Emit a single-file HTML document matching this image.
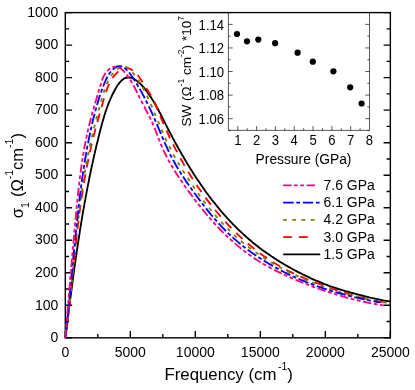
<!DOCTYPE html>
<html><head><meta charset="utf-8"><title>chart</title>
<style>
html,body{margin:0;padding:0;background:#fff;}
body{width:415px;height:390px;overflow:hidden;}
svg{display:block;will-change:transform;opacity:0.999;}
text{font-family:"Liberation Sans",sans-serif;fill:#000;}
.tl{font-size:14px;}
.il{font-size:13.1px;}
</style></head><body>
<svg width="415" height="390" viewBox="0 0 415 390">
<rect width="415" height="390" fill="#fff"/>
<defs><clipPath id="cp"><rect x="64.6" y="12" width="326.5" height="326.5"/></clipPath></defs>

<g stroke="#000" stroke-width="1.4" fill="none">
<rect x="65.30" y="12.60" width="325.05" height="325.20"/>
<path d="M65.3 337.80h6.8M390.4 337.80h-6.8M65.3 321.54h3.8M390.4 321.54h-3.8M65.3 305.28h6.8M390.4 305.28h-6.8M65.3 289.02h3.8M390.4 289.02h-3.8M65.3 272.76h6.8M390.4 272.76h-6.8M65.3 256.50h3.8M390.4 256.50h-3.8M65.3 240.24h6.8M390.4 240.24h-6.8M65.3 223.98h3.8M390.4 223.98h-3.8M65.3 207.72h6.8M390.4 207.72h-6.8M65.3 191.46h3.8M390.4 191.46h-3.8M65.3 175.20h6.8M390.4 175.20h-6.8M65.3 158.94h3.8M390.4 158.94h-3.8M65.3 142.68h6.8M390.4 142.68h-6.8M65.3 126.42h3.8M390.4 126.42h-3.8M65.3 110.16h6.8M390.4 110.16h-6.8M65.3 93.90h3.8M390.4 93.90h-3.8M65.3 77.64h6.8M390.4 77.64h-6.8M65.3 61.38h3.8M390.4 61.38h-3.8M65.3 45.12h6.8M390.4 45.12h-6.8M65.3 28.86h3.8M390.4 28.86h-3.8M65.3 12.60h6.8M390.4 12.60h-6.8M65.30 337.8v-6.8M97.81 337.8v-3.8M130.31 337.8v-6.8M162.81 337.8v-3.8M195.32 337.8v-6.8M227.82 337.8v-3.8M260.33 337.8v-6.8M292.83 337.8v-3.8M325.34 337.8v-6.8M357.85 337.8v-3.8M390.35 337.8v-6.8"/>
</g>
<g clip-path="url(#cp)" fill="none" stroke-width="1.85" stroke-linejoin="round">
<path d="M65.5 337.8 L65.8 335.4 L66.1 332.9 L66.4 330.5 L66.7 328.1 L67.0 325.6 L67.3 323.2 L67.6 320.8 L67.9 318.4 L68.2 315.9 L68.5 313.5 L68.8 311.1 L69.1 308.6 L69.4 306.2 L69.7 303.7 L70.0 301.3 L70.3 298.9 L70.6 296.4 L71.0 294.0 L71.3 291.6 L71.6 289.1 L71.9 286.7 L72.2 284.3 L72.6 281.8 L72.9 279.4 L73.2 277.0 L73.5 274.5 L73.9 272.1 L74.2 269.7 L74.5 267.2 L74.9 264.8 L75.2 262.4 L75.6 259.9 L75.9 257.5 L76.3 255.1 L76.6 252.7 L77.0 250.2 L77.3 247.8 L77.7 245.4 L78.1 242.9 L78.4 240.5 L78.8 238.1 L79.2 235.7 L79.6 233.2 L79.9 230.8 L80.3 228.4 L80.7 226.0 L81.1 223.5 L81.5 221.1 L81.9 218.7 L82.3 216.3 L82.7 213.9 L83.1 211.4 L83.6 209.0 L84.0 206.6 L84.4 204.2 L84.8 201.8 L85.3 199.4 L85.7 196.9 L86.2 194.5 L86.6 192.1 L87.1 189.7 L87.5 187.3 L88.0 184.9 L88.5 182.5 L89.0 180.1 L89.4 177.7 L89.9 175.3 L90.4 172.9 L90.9 170.5 L91.4 168.1 L91.9 165.7 L92.5 163.3 L93.0 160.9 L93.5 158.5 L94.0 156.1 L94.6 153.8 L95.1 151.4 L95.7 149.0 L96.2 146.6 L96.8 144.2 L97.4 141.9 L98.0 139.5 L98.5 137.1 L99.1 134.7 L99.7 132.4 L100.3 130.0 L101.0 127.6 L101.6 125.3 L102.2 122.9 L102.9 120.5 L103.6 118.2 L104.3 115.8 L105.0 113.5 L105.8 111.1 L106.6 108.8 L107.4 106.5 L108.3 104.1 L109.2 101.8 L110.2 99.5 L111.3 97.1 L112.3 94.8 L113.5 92.5 L114.7 90.2 L116.0 87.9 L117.3 85.7 L118.7 83.7 L120.3 81.8 L121.8 80.2 L123.5 78.9 L125.3 78.0 L127.2 77.5 L129.1 77.4 L131.2 77.8 L133.3 78.6 L135.3 79.8 L137.4 81.2 L139.3 82.8 L141.2 84.7 L143.0 86.7 L144.7 88.7 L146.3 90.8 L147.8 92.9 L149.3 95.0 L150.8 97.1 L152.1 99.2 L153.4 101.3 L154.7 103.4 L155.9 105.6 L157.1 107.7 L158.3 109.8 L159.4 112.0 L160.6 114.1 L161.7 116.3 L162.8 118.4 L163.9 120.6 L164.9 122.8 L166.0 124.9 L167.1 127.1 L168.2 129.2 L169.3 131.4 L170.5 133.5 L171.6 135.7 L172.7 137.9 L173.9 140.0 L175.0 142.2 L176.2 144.3 L177.4 146.5 L178.6 148.6 L179.8 150.7 L181.0 152.9 L182.2 155.0 L183.5 157.1 L184.7 159.2 L186.0 161.4 L187.2 163.5 L188.5 165.6 L189.8 167.7 L191.1 169.8 L192.4 171.8 L193.7 173.9 L195.1 176.0 L196.4 178.1 L197.8 180.1 L199.2 182.1 L200.6 184.2 L202.0 186.2 L203.4 188.2 L204.8 190.2 L206.2 192.2 L207.7 194.2 L209.2 196.2 L210.6 198.1 L212.1 200.1 L213.7 202.0 L215.2 203.9 L216.7 205.8 L218.3 207.7 L219.8 209.6 L221.4 211.5 L223.0 213.3 L224.6 215.2 L226.3 217.0 L227.9 218.8 L229.6 220.6 L231.3 222.4 L232.9 224.2 L234.7 225.9 L236.4 227.6 L238.1 229.3 L239.9 231.0 L241.7 232.7 L243.5 234.4 L245.3 236.0 L247.1 237.6 L248.9 239.2 L250.8 240.8 L252.7 242.4 L254.6 243.9 L256.5 245.4 L258.4 246.9 L260.3 248.4 L262.3 249.9 L264.3 251.3 L266.3 252.7 L268.3 254.1 L270.3 255.5 L272.3 256.9 L274.4 258.2 L276.4 259.6 L278.5 260.9 L280.6 262.2 L282.7 263.4 L284.8 264.7 L286.9 265.9 L289.0 267.1 L291.2 268.3 L293.3 269.5 L295.5 270.7 L297.7 271.8 L299.8 272.9 L302.0 274.0 L304.2 275.1 L306.5 276.2 L308.7 277.2 L310.9 278.3 L313.2 279.3 L315.4 280.3 L317.7 281.2 L320.0 282.2 L322.2 283.1 L324.5 284.1 L326.8 284.9 L329.1 285.8 L331.4 286.6 L333.7 287.4 L336.0 288.2 L338.4 289.0 L340.7 289.7 L343.0 290.4 L345.4 291.1 L347.7 291.7 L350.1 292.4 L352.4 293.0 L354.8 293.7 L357.1 294.3 L359.5 294.9 L361.9 295.5 L364.2 296.1 L366.6 296.7 L369.0 297.3 L371.3 297.9 L373.7 298.4 L376.1 298.9 L378.5 299.4 L380.9 299.9 L383.2 300.4 L385.6 300.8 L388.0 301.2 L390.4 301.6" stroke="#000"/>
<path d="M65.2 337.7 L65.6 335.2 L65.9 332.7 L66.2 330.2 L66.6 327.7 L66.9 325.2 L67.2 322.7 L67.5 320.2 L67.8 317.7 L68.1 315.2 L68.4 312.7 L68.7 310.2 L69.0 307.7 L69.3 305.2 L69.6 302.7 L69.9 300.1 L70.1 297.6 L70.4 295.1 L70.7 292.6 L71.0 290.1 L71.2 287.5 L71.5 285.0 L71.8 282.5 L72.0 280.0 L72.3 277.5 L72.5 274.9 L72.8 272.4 L73.1 269.9 L73.3 267.4 L73.6 264.8 L73.9 262.3 L74.1 259.8 L74.4 257.3 L74.6 254.7 L74.9 252.2 L75.2 249.7 L75.5 247.2 L75.7 244.6 L76.0 242.1 L76.3 239.6 L76.6 237.1 L76.9 234.5 L77.2 232.0 L77.4 229.5 L77.7 227.0 L78.0 224.5 L78.4 221.9 L78.7 219.4 L79.0 216.9 L79.3 214.4 L79.6 211.9 L80.0 209.4 L80.3 206.9 L80.7 204.4 L81.0 201.8 L81.4 199.3 L81.7 196.8 L82.1 194.3 L82.5 191.8 L82.9 189.3 L83.3 186.8 L83.7 184.3 L84.1 181.9 L84.5 179.4 L85.0 176.9 L85.4 174.4 L85.8 171.9 L86.3 169.4 L86.8 166.9 L87.3 164.5 L87.8 162.0 L88.3 159.5 L88.8 157.1 L89.3 154.6 L89.8 152.1 L90.4 149.7 L90.9 147.2 L91.5 144.8 L92.1 142.3 L92.7 139.9 L93.3 137.4 L93.9 135.0 L94.6 132.5 L95.2 130.1 L95.8 127.6 L96.5 125.2 L97.2 122.8 L97.8 120.3 L98.5 117.9 L99.2 115.4 L99.9 112.9 L100.6 110.5 L101.3 108.0 L102.0 105.5 L102.7 103.0 L103.4 100.6 L104.1 98.1 L104.9 95.6 L105.6 93.1 L106.5 90.6 L107.3 88.2 L108.3 85.9 L109.3 83.6 L110.5 81.3 L111.7 79.2 L113.1 77.2 L114.7 75.2 L116.4 73.4 L118.2 71.7 L120.3 70.2 L122.5 69.1 L124.7 68.4 L127.1 68.3 L129.4 68.7 L131.6 69.7 L133.7 71.0 L135.5 72.6 L137.3 74.6 L138.9 76.7 L140.4 78.9 L141.9 81.2 L143.3 83.5 L144.7 85.8 L146.1 88.0 L147.5 90.1 L148.8 92.1 L150.2 94.1 L151.4 96.2 L152.6 98.3 L153.7 100.5 L154.8 102.8 L155.8 105.1 L156.7 107.5 L157.7 109.9 L158.7 112.3 L159.6 114.7 L160.6 117.0 L161.6 119.4 L162.6 121.7 L163.6 124.0 L164.6 126.3 L165.7 128.6 L166.7 130.9 L167.8 133.2 L168.8 135.5 L169.9 137.8 L171.0 140.1 L172.1 142.3 L173.3 144.6 L174.4 146.8 L175.5 149.1 L176.7 151.3 L177.9 153.6 L179.1 155.8 L180.3 158.0 L181.5 160.2 L182.8 162.4 L184.0 164.6 L185.3 166.8 L186.6 169.0 L187.9 171.2 L189.2 173.4 L190.5 175.5 L191.9 177.7 L193.2 179.8 L194.6 181.9 L196.0 184.0 L197.4 186.2 L198.8 188.2 L200.3 190.3 L201.7 192.4 L203.2 194.5 L204.7 196.5 L206.2 198.6 L207.7 200.6 L209.3 202.6 L210.8 204.6 L212.4 206.6 L214.0 208.6 L215.6 210.5 L217.2 212.5 L218.9 214.4 L220.5 216.3 L222.2 218.2 L223.9 220.1 L225.6 222.0 L227.3 223.9 L229.0 225.7 L230.8 227.5 L232.6 229.3 L234.4 231.1 L236.2 232.9 L238.0 234.7 L239.8 236.4 L241.7 238.1 L243.6 239.8 L245.5 241.5 L247.4 243.2 L249.3 244.8 L251.3 246.4 L253.2 248.0 L255.2 249.6 L257.2 251.2 L259.2 252.7 L261.2 254.2 L263.3 255.7 L265.4 257.1 L267.4 258.6 L269.5 260.0 L271.7 261.3 L273.8 262.7 L275.9 264.0 L278.1 265.3 L280.3 266.6 L282.5 267.8 L284.7 269.0 L287.0 270.2 L289.2 271.3 L291.5 272.4 L293.8 273.5 L296.1 274.6 L298.4 275.6 L300.7 276.6 L303.1 277.6 L305.4 278.6 L307.8 279.6 L310.1 280.5 L312.5 281.4 L314.9 282.3 L317.3 283.2 L319.7 284.1 L322.1 284.9 L324.5 285.8 L326.9 286.7 L329.2 287.5 L331.6 288.4 L334.0 289.2 L336.4 290.1 L338.8 290.9 L341.3 291.7 L343.7 292.4 L346.1 293.2 L348.5 293.9 L350.9 294.6 L353.3 295.3 L355.8 296.0 L358.2 296.7 L360.6 297.3 L363.1 297.9 L365.5 298.5 L368.0 299.1 L370.5 299.7 L372.9 300.2 L375.4 300.7 L377.9 301.2 L380.4 301.6 L382.9 302.1 L385.4 302.5 L388.0 302.9 L390.5 303.2" stroke="#ff0000" stroke-dasharray="8.7 6.9"/>
<path d="M65.1 337.8 L65.5 335.2 L65.8 332.7 L66.2 330.2 L66.5 327.7 L66.9 325.1 L67.2 322.6 L67.5 320.1 L67.8 317.6 L68.1 315.0 L68.4 312.5 L68.7 310.0 L69.0 307.4 L69.3 304.9 L69.6 302.4 L69.9 299.8 L70.2 297.3 L70.4 294.8 L70.7 292.2 L71.0 289.7 L71.2 287.1 L71.5 284.6 L71.8 282.1 L72.0 279.5 L72.3 277.0 L72.5 274.4 L72.8 271.9 L73.1 269.4 L73.3 266.8 L73.6 264.3 L73.8 261.7 L74.1 259.2 L74.3 256.7 L74.6 254.1 L74.8 251.6 L75.1 249.0 L75.3 246.5 L75.6 243.9 L75.9 241.4 L76.1 238.9 L76.4 236.3 L76.7 233.8 L76.9 231.3 L77.2 228.7 L77.5 226.2 L77.8 223.6 L78.1 221.1 L78.4 218.6 L78.7 216.0 L79.0 213.5 L79.3 211.0 L79.6 208.4 L79.9 205.9 L80.2 203.4 L80.5 200.9 L80.9 198.3 L81.2 195.8 L81.6 193.3 L81.9 190.8 L82.3 188.2 L82.7 185.7 L83.1 183.2 L83.4 180.7 L83.8 178.2 L84.2 175.6 L84.7 173.1 L85.1 170.6 L85.5 168.1 L86.0 165.6 L86.4 163.1 L86.9 160.6 L87.4 158.1 L87.9 155.6 L88.4 153.1 L88.9 150.6 L89.4 148.1 L89.9 145.6 L90.5 143.1 L91.0 140.6 L91.6 138.2 L92.2 135.7 L92.8 133.2 L93.4 130.7 L94.0 128.2 L94.6 125.8 L95.2 123.3 L95.9 120.8 L96.5 118.3 L97.2 115.9 L97.8 113.4 L98.5 110.9 L99.2 108.5 L99.9 106.0 L100.6 103.5 L101.3 101.1 L102.0 98.6 L102.7 96.2 L103.4 93.7 L104.1 91.3 L104.9 88.8 L105.8 86.5 L106.7 84.1 L107.8 81.8 L108.9 79.5 L110.2 77.3 L111.6 75.1 L113.3 73.1 L115.0 71.1 L117.0 69.3 L119.1 67.7 L121.3 66.7 L123.4 66.2 L125.6 66.5 L127.6 67.7 L129.6 69.3 L131.5 71.3 L133.3 73.4 L135.0 75.5 L136.5 77.6 L138.0 79.8 L139.4 81.9 L140.8 84.1 L142.1 86.3 L143.3 88.5 L144.5 90.7 L145.6 93.0 L146.7 95.2 L147.8 97.5 L148.9 99.8 L149.9 102.1 L150.9 104.5 L152.0 106.8 L153.0 109.2 L154.0 111.5 L154.9 113.9 L155.9 116.3 L156.9 118.6 L157.9 121.0 L158.9 123.4 L159.8 125.7 L160.8 128.1 L161.8 130.5 L162.9 132.8 L163.9 135.2 L164.9 137.5 L166.0 139.8 L167.1 142.1 L168.2 144.4 L169.4 146.7 L170.5 148.9 L171.7 151.2 L172.9 153.4 L174.1 155.7 L175.3 157.9 L176.6 160.1 L177.9 162.3 L179.1 164.5 L180.5 166.6 L181.8 168.8 L183.1 171.0 L184.5 173.1 L185.8 175.3 L187.2 177.4 L188.6 179.5 L190.0 181.7 L191.4 183.8 L192.9 185.9 L194.3 188.0 L195.8 190.1 L197.2 192.2 L198.7 194.3 L200.2 196.4 L201.8 198.4 L203.3 200.5 L204.8 202.5 L206.4 204.5 L208.0 206.5 L209.6 208.5 L211.2 210.5 L212.8 212.5 L214.5 214.4 L216.2 216.4 L217.8 218.3 L219.5 220.2 L221.3 222.1 L223.0 223.9 L224.8 225.8 L226.5 227.6 L228.3 229.4 L230.2 231.2 L232.0 233.0 L233.8 234.7 L235.7 236.4 L237.6 238.1 L239.5 239.8 L241.5 241.5 L243.4 243.1 L245.4 244.7 L247.4 246.3 L249.4 247.8 L251.4 249.3 L253.5 250.8 L255.6 252.3 L257.7 253.8 L259.8 255.2 L261.9 256.6 L264.0 258.0 L266.2 259.4 L268.4 260.7 L270.5 262.1 L272.7 263.3 L274.9 264.6 L277.2 265.9 L279.4 267.1 L281.7 268.3 L283.9 269.5 L286.2 270.7 L288.5 271.8 L290.8 273.0 L293.1 274.1 L295.4 275.2 L297.7 276.2 L300.0 277.3 L302.4 278.3 L304.7 279.3 L307.1 280.3 L309.4 281.2 L311.8 282.2 L314.2 283.1 L316.5 284.0 L318.9 284.9 L321.3 285.8 L323.7 286.7 L326.1 287.5 L328.5 288.4 L331.0 289.2 L333.4 290.0 L335.8 290.9 L338.3 291.6 L340.7 292.4 L343.1 293.1 L345.6 293.8 L348.1 294.5 L350.5 295.1 L353.0 295.8 L355.5 296.4 L357.9 297.0 L360.4 297.6 L362.9 298.2 L365.4 298.7 L367.9 299.3 L370.4 299.8 L372.9 300.3 L375.4 300.8 L377.9 301.3 L380.4 301.7 L382.9 302.2 L385.5 302.6 L388.0 303.0 L390.5 303.4" stroke="#808000" stroke-dasharray="3.7 5.5"/>
<path d="M65.3 337.8 L65.5 335.2 L65.8 332.7 L66.1 330.1 L66.4 327.6 L66.6 325.0 L66.9 322.5 L67.2 319.9 L67.4 317.4 L67.7 314.8 L68.0 312.3 L68.2 309.7 L68.5 307.2 L68.7 304.6 L69.0 302.1 L69.2 299.5 L69.5 297.0 L69.7 294.4 L70.0 291.9 L70.3 289.3 L70.5 286.8 L70.7 284.2 L71.0 281.7 L71.2 279.1 L71.5 276.6 L71.7 274.0 L72.0 271.5 L72.2 268.9 L72.5 266.4 L72.7 263.8 L73.0 261.3 L73.2 258.7 L73.5 256.2 L73.7 253.6 L74.0 251.1 L74.2 248.5 L74.5 246.0 L74.8 243.4 L75.0 240.8 L75.3 238.3 L75.5 235.7 L75.8 233.2 L76.1 230.6 L76.3 228.1 L76.6 225.5 L76.9 223.0 L77.1 220.4 L77.4 217.9 L77.7 215.4 L78.0 212.8 L78.3 210.3 L78.5 207.7 L78.8 205.2 L79.1 202.6 L79.4 200.1 L79.7 197.5 L80.0 195.0 L80.4 192.4 L80.7 189.9 L81.0 187.4 L81.3 184.8 L81.7 182.3 L82.0 179.7 L82.4 177.2 L82.8 174.7 L83.1 172.1 L83.5 169.6 L83.9 167.1 L84.3 164.5 L84.7 162.0 L85.1 159.5 L85.5 157.0 L86.0 154.4 L86.4 151.9 L86.9 149.4 L87.3 146.9 L87.8 144.4 L88.3 141.8 L88.8 139.3 L89.3 136.8 L89.8 134.3 L90.4 131.8 L90.9 129.3 L91.5 126.8 L92.0 124.3 L92.6 121.8 L93.2 119.3 L93.8 116.8 L94.5 114.3 L95.1 111.8 L95.8 109.3 L96.5 106.9 L97.2 104.4 L97.9 101.9 L98.7 99.5 L99.4 97.0 L100.2 94.6 L101.1 92.2 L101.9 89.8 L102.8 87.4 L103.7 85.0 L104.7 82.7 L105.7 80.3 L106.8 78.0 L108.0 75.8 L109.4 73.5 L111.1 71.3 L113.0 69.3 L115.1 67.6 L117.3 66.4 L119.5 66.1 L121.7 66.5 L123.9 67.6 L126.0 69.3 L127.9 71.2 L129.8 73.4 L131.4 75.5 L132.8 77.6 L134.2 79.7 L135.5 81.9 L136.9 84.0 L138.1 86.2 L139.4 88.4 L140.7 90.6 L141.9 92.8 L143.1 95.1 L144.3 97.3 L145.5 99.6 L146.6 101.9 L147.8 104.2 L148.9 106.5 L150.0 108.8 L151.1 111.2 L152.2 113.5 L153.2 115.9 L154.3 118.2 L155.3 120.6 L156.3 122.9 L157.3 125.3 L158.3 127.6 L159.3 130.0 L160.3 132.4 L161.3 134.7 L162.3 137.1 L163.3 139.4 L164.3 141.7 L165.3 144.1 L166.4 146.4 L167.4 148.7 L168.5 151.0 L169.6 153.3 L170.8 155.6 L171.9 157.8 L173.1 160.1 L174.4 162.3 L175.6 164.5 L176.9 166.8 L178.2 169.0 L179.6 171.1 L180.9 173.3 L182.3 175.5 L183.7 177.6 L185.1 179.8 L186.5 181.9 L188.0 184.0 L189.5 186.1 L190.9 188.2 L192.4 190.3 L194.0 192.4 L195.5 194.5 L197.0 196.6 L198.6 198.6 L200.1 200.7 L201.7 202.7 L203.2 204.7 L204.8 206.8 L206.4 208.8 L208.0 210.8 L209.6 212.8 L211.2 214.8 L212.9 216.7 L214.5 218.7 L216.2 220.6 L217.9 222.5 L219.6 224.4 L221.4 226.3 L223.1 228.1 L224.9 230.0 L226.7 231.8 L228.5 233.6 L230.4 235.3 L232.3 237.0 L234.2 238.8 L236.1 240.4 L238.1 242.1 L240.0 243.7 L242.0 245.3 L244.0 246.9 L246.1 248.5 L248.1 250.0 L250.2 251.5 L252.3 253.0 L254.4 254.5 L256.5 256.0 L258.7 257.4 L260.8 258.8 L263.0 260.1 L265.2 261.5 L267.3 262.8 L269.5 264.1 L271.8 265.4 L274.0 266.7 L276.2 267.9 L278.5 269.1 L280.8 270.3 L283.0 271.5 L285.3 272.7 L287.6 273.8 L289.9 274.9 L292.2 276.0 L294.6 277.1 L296.9 278.1 L299.2 279.1 L301.6 280.1 L304.0 281.1 L306.3 282.1 L308.7 283.0 L311.1 283.9 L313.5 284.8 L315.9 285.7 L318.3 286.6 L320.7 287.4 L323.2 288.3 L325.6 289.1 L328.0 289.9 L330.5 290.6 L332.9 291.4 L335.4 292.1 L337.9 292.8 L340.3 293.5 L342.8 294.2 L345.3 294.9 L347.8 295.5 L350.3 296.2 L352.8 296.8 L355.2 297.4 L357.7 297.9 L360.2 298.5 L362.8 299.0 L365.3 299.6 L367.8 300.1 L370.3 300.6 L372.8 301.0 L375.3 301.5 L377.8 302.0 L380.4 302.4" stroke="#0000ff" stroke-dasharray="10.6 2.6 3.8 2.6"/>
<path d="M65.3 337.8 L65.5 335.3 L65.7 332.7 L65.9 330.1 L66.2 327.5 L66.4 324.9 L66.6 322.4 L66.8 319.8 L67.0 317.2 L67.2 314.6 L67.4 312.1 L67.6 309.5 L67.8 306.9 L68.0 304.3 L68.3 301.8 L68.5 299.2 L68.7 296.6 L68.9 294.1 L69.1 291.5 L69.3 288.9 L69.6 286.4 L69.8 283.8 L70.0 281.2 L70.2 278.7 L70.5 276.1 L70.7 273.6 L70.9 271.0 L71.1 268.4 L71.3 265.9 L71.6 263.3 L71.8 260.7 L72.0 258.2 L72.3 255.6 L72.5 253.0 L72.7 250.5 L72.9 247.9 L73.2 245.3 L73.4 242.8 L73.6 240.2 L73.9 237.6 L74.1 235.1 L74.3 232.5 L74.6 229.9 L74.8 227.4 L75.0 224.8 L75.3 222.2 L75.5 219.7 L75.8 217.1 L76.0 214.5 L76.2 211.9 L76.5 209.4 L76.7 206.8 L77.0 204.2 L77.2 201.6 L77.5 199.1 L77.8 196.5 L78.0 193.9 L78.3 191.3 L78.6 188.8 L78.9 186.2 L79.2 183.6 L79.5 181.1 L79.8 178.5 L80.1 175.9 L80.4 173.4 L80.8 170.8 L81.1 168.3 L81.5 165.7 L81.9 163.2 L82.2 160.6 L82.6 158.1 L83.0 155.5 L83.5 153.0 L83.9 150.5 L84.3 147.9 L84.8 145.4 L85.3 142.9 L85.8 140.4 L86.3 137.9 L86.8 135.4 L87.4 132.9 L87.9 130.4 L88.5 127.9 L89.1 125.4 L89.7 123.0 L90.4 120.5 L91.0 118.0 L91.7 115.5 L92.3 113.1 L93.0 110.6 L93.7 108.1 L94.4 105.6 L95.1 103.1 L95.9 100.7 L96.6 98.2 L97.3 95.6 L98.1 93.1 L98.8 90.6 L99.6 88.1 L100.4 85.5 L101.2 82.9 L102.0 80.4 L102.9 77.9 L104.0 75.6 L105.3 73.4 L106.9 71.4 L108.8 69.6 L110.9 68.1 L113.3 67.1 L115.6 66.6 L118.0 66.9 L120.1 67.9 L122.0 69.5 L123.8 71.3 L125.5 73.3 L127.1 75.3 L128.6 77.4 L130.0 79.6 L131.4 81.8 L132.7 84.0 L133.9 86.3 L135.2 88.7 L136.4 91.0 L137.5 93.4 L138.7 95.7 L139.8 98.1 L141.0 100.4 L142.2 102.7 L143.4 105.0 L144.6 107.2 L145.7 109.5 L146.9 111.8 L148.1 114.0 L149.2 116.3 L150.4 118.6 L151.4 120.9 L152.5 123.2 L153.5 125.5 L154.5 127.9 L155.5 130.3 L156.4 132.7 L157.3 135.1 L158.2 137.5 L159.2 140.0 L160.1 142.4 L161.1 144.8 L162.1 147.2 L163.1 149.5 L164.2 151.9 L165.4 154.2 L166.5 156.5 L167.7 158.8 L168.9 161.0 L170.2 163.3 L171.5 165.5 L172.8 167.8 L174.2 170.0 L175.5 172.2 L176.9 174.3 L178.3 176.5 L179.7 178.7 L181.2 180.8 L182.7 182.9 L184.1 185.1 L185.6 187.2 L187.1 189.3 L188.6 191.4 L190.1 193.4 L191.7 195.5 L193.2 197.6 L194.7 199.6 L196.3 201.7 L197.9 203.7 L199.5 205.7 L201.1 207.7 L202.7 209.7 L204.3 211.7 L205.9 213.7 L207.6 215.7 L209.3 217.6 L211.0 219.5 L212.7 221.5 L214.4 223.4 L216.1 225.3 L217.9 227.1 L219.7 229.0 L221.5 230.8 L223.3 232.7 L225.2 234.5 L227.0 236.3 L228.9 238.1 L230.8 239.8 L232.8 241.5 L234.7 243.2 L236.7 244.9 L238.7 246.6 L240.7 248.2 L242.7 249.8 L244.7 251.4 L246.8 253.0 L248.9 254.5 L251.0 256.0 L253.1 257.5 L255.2 258.9 L257.4 260.3 L259.6 261.7 L261.8 263.0 L264.0 264.3 L266.2 265.6 L268.5 266.8 L270.7 268.1 L273.0 269.3 L275.3 270.4 L277.6 271.6 L279.9 272.7 L282.2 273.8 L284.6 274.9 L286.9 276.0 L289.3 277.1 L291.6 278.1 L294.0 279.1 L296.4 280.1 L298.7 281.1 L301.1 282.1 L303.5 283.1 L305.9 284.0 L308.3 284.9 L310.8 285.9 L313.2 286.8 L315.6 287.7 L318.0 288.5 L320.5 289.4 L322.9 290.2 L325.4 291.1 L327.8 291.9 L330.3 292.7 L332.7 293.5 L335.2 294.2 L337.6 295.0 L340.1 295.7 L342.6 296.4 L345.1 297.1 L347.5 297.8 L350.0 298.5 L352.5 299.1 L355.0 299.7 L357.5 300.3 L360.0 300.9 L362.6 301.5 L365.1 302.0 L367.6 302.6 L370.1 303.1 L372.7 303.6 L375.2 304.0 L377.7 304.5 L380.3 304.9 L382.8 305.3 L385.4 305.7" stroke="#ff0080" stroke-dasharray="8.4 2.5 3.8 2.5 3.8 2.7"/>
</g>
<text class="tl" transform="translate(58.4,342.0) scale(1,1.07)" text-anchor="end">0</text>
<text class="tl" transform="translate(58.4,309.5) scale(1,1.07)" text-anchor="end">100</text>
<text class="tl" transform="translate(58.4,277.0) scale(1,1.07)" text-anchor="end">200</text>
<text class="tl" transform="translate(58.4,244.4) scale(1,1.07)" text-anchor="end">300</text>
<text class="tl" transform="translate(58.4,211.9) scale(1,1.07)" text-anchor="end">400</text>
<text class="tl" transform="translate(58.4,179.4) scale(1,1.07)" text-anchor="end">500</text>
<text class="tl" transform="translate(58.4,146.9) scale(1,1.07)" text-anchor="end">600</text>
<text class="tl" transform="translate(58.4,114.4) scale(1,1.07)" text-anchor="end">700</text>
<text class="tl" transform="translate(58.4,81.8) scale(1,1.07)" text-anchor="end">800</text>
<text class="tl" transform="translate(58.4,49.3) scale(1,1.07)" text-anchor="end">900</text>
<text class="tl" transform="translate(58.4,16.8) scale(1,1.07)" text-anchor="end">1000</text>
<text class="tl" transform="translate(65.3,356.9) scale(1,1.07)" text-anchor="middle">0</text>
<text class="tl" transform="translate(130.3,356.9) scale(1,1.07)" text-anchor="middle">5000</text>
<text class="tl" transform="translate(195.3,356.9) scale(1,1.07)" text-anchor="middle">10000</text>
<text class="tl" transform="translate(260.3,356.9) scale(1,1.07)" text-anchor="middle">15000</text>
<text class="tl" transform="translate(325.3,356.9) scale(1,1.07)" text-anchor="middle">20000</text>
<text class="tl" transform="translate(390.4,356.9) scale(1,1.07)" text-anchor="middle">25000</text>
<text x="228.6" y="380.3" text-anchor="middle" font-size="16.8">Frequency (cm<tspan font-size="10.5" dx="1.7" dy="-10.3">-1</tspan><tspan dx="-0.3" dy="10.3">)</tspan></text>
<text transform="translate(22.9,175.6) rotate(-90)" text-anchor="middle" font-size="16.5">σ<tspan font-size="10.5" dx="-0.1" dy="6">1</tspan><tspan dx="0.6" dy="-6"> (Ω</tspan><tspan font-size="10.5" dy="-9.8">-1</tspan><tspan dy="9.8">cm</tspan><tspan font-size="10.5" dy="-9.8">-1</tspan><tspan dy="9.8">)</tspan></text>
<rect x="228.4" y="12.6" width="141.1" height="117.8" fill="#fff"/>
<g stroke="#000" stroke-width="0.65" fill="none">
<path d="M228.4 12.6V130.4H369.5V12.6M228.4 130.45h2.2M369.5 130.45h-2.2M228.4 118.66h4.3M369.5 118.66h-4.3M228.4 106.88h2.2M369.5 106.88h-2.2M228.4 95.09h4.3M369.5 95.09h-4.3M228.4 83.31h2.2M369.5 83.31h-2.2M228.4 71.52h4.3M369.5 71.52h-4.3M228.4 59.74h2.2M369.5 59.74h-2.2M228.4 47.95h4.3M369.5 47.95h-4.3M228.4 36.17h2.2M369.5 36.17h-2.2M228.4 24.38h4.3M369.5 24.38h-4.3M237.81 130.4v-4.3M247.21 130.4v-2.2M256.62 130.4v-4.3M266.03 130.4v-2.2M275.43 130.4v-4.3M284.84 130.4v-2.2M294.25 130.4v-4.3M303.65 130.4v-2.2M313.06 130.4v-4.3M322.47 130.4v-2.2M331.87 130.4v-4.3M341.28 130.4v-2.2M350.69 130.4v-4.3M360.09 130.4v-2.2"/>
</g>
<path d="M227.9 12.6H370.0" stroke="#000" stroke-width="1.3"/>
<text class="il" transform="translate(224.1,29.5) scale(1,1.08)" text-anchor="end">1.14</text>
<text class="il" transform="translate(224.1,53.1) scale(1,1.08)" text-anchor="end">1.12</text>
<text class="il" transform="translate(224.1,76.6) scale(1,1.08)" text-anchor="end">1.10</text>
<text class="il" transform="translate(224.1,100.2) scale(1,1.08)" text-anchor="end">1.08</text>
<text class="il" transform="translate(224.1,123.8) scale(1,1.08)" text-anchor="end">1.06</text>
<text class="il" transform="translate(237.8,144.8) scale(1,1.08)" text-anchor="middle">1</text>
<text class="il" transform="translate(256.6,144.8) scale(1,1.08)" text-anchor="middle">2</text>
<text class="il" transform="translate(275.4,144.8) scale(1,1.08)" text-anchor="middle">3</text>
<text class="il" transform="translate(294.2,144.8) scale(1,1.08)" text-anchor="middle">4</text>
<text class="il" transform="translate(313.1,144.8) scale(1,1.08)" text-anchor="middle">5</text>
<text class="il" transform="translate(331.9,144.8) scale(1,1.08)" text-anchor="middle">6</text>
<text class="il" transform="translate(350.7,144.8) scale(1,1.08)" text-anchor="middle">7</text>
<text class="il" transform="translate(369.5,144.8) scale(1,1.08)" text-anchor="middle">8</text>
<text x="255.6" y="163.7" font-size="13.8">Pressure (GPa)</text>
<text transform="translate(190.7,71.3) rotate(-90)" text-anchor="middle" font-size="13.55">SW (Ω<tspan font-size="8.5" dy="-6.8">-1</tspan><tspan dy="6.8"> cm</tspan><tspan font-size="8.5" dy="-6.8">-2</tspan><tspan dy="6.8">) *10</tspan><tspan font-size="8.5" dy="-6.8">7</tspan></text>
<circle cx="237.0" cy="34.0" r="3.1" fill="#000"/>
<circle cx="247.0" cy="41.3" r="3.1" fill="#000"/>
<circle cx="258.3" cy="39.6" r="3.1" fill="#000"/>
<circle cx="275.1" cy="43.2" r="3.1" fill="#000"/>
<circle cx="297.6" cy="52.7" r="3.1" fill="#000"/>
<circle cx="312.8" cy="61.7" r="3.1" fill="#000"/>
<circle cx="333.4" cy="71.3" r="3.1" fill="#000"/>
<circle cx="350.2" cy="87.3" r="3.1" fill="#000"/>
<circle cx="361.6" cy="103.5" r="3.1" fill="#000"/>
<text transform="translate(323.5,189.9) scale(1,1.045)" font-size="14">7.6 GPa</text>
<text transform="translate(323.5,207.2) scale(1,1.045)" font-size="14">6.1 GPa</text>
<text transform="translate(323.5,224.4) scale(1,1.045)" font-size="14">4.2 GPa</text>
<text transform="translate(323.5,241.7) scale(1,1.045)" font-size="14">3.0 GPa</text>
<text transform="translate(323.5,258.9) scale(1,1.045)" font-size="14">1.5 GPa</text>
<g stroke-width="1.7" fill="none">
<path d="M283.1 185.3h8.5m2.3 0h3.8m2.5 0h3.7m2.8 0h8.3" stroke="#ff0080"/>
<path d="M283.1 202.6h10.6m2.6 0h3.8m2.7 0h10.4m2.7 0h3.7" stroke="#0000ff"/>
<path d="M283.1 219.8h3.7m5.5 0h3.7m5.5 0h3.7m5.5 0h3.8" stroke="#808000"/>
<path d="M283.2 237.1h8.7m6.9 0h9" stroke="#ff0000"/>
<path d="M283.2 254.3h37" stroke="#000"/>
</g>
</svg></body></html>
